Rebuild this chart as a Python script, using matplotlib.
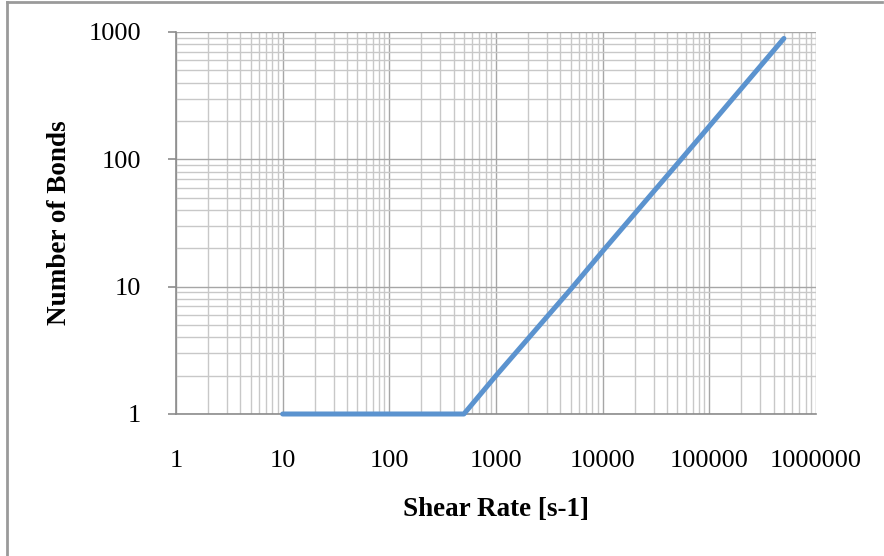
import numpy as np
import matplotlib
matplotlib.use("Agg")
import matplotlib.pyplot as plt
from matplotlib.ticker import FixedLocator, LogLocator, NullFormatter
from matplotlib.lines import Line2D

# data
shear_rate = [10, 50, 100, 500, 1000, 5000, 10000, 50000, 100000, 500000]
bonds = [1, 1, 1, 1, 2.0, 9.5, 19, 92, 182, 890]

x_ticks = [1, 10, 100, 1000, 10000, 100000, 1000000]
x_labels = ["1", "10", "100", "1000", "10000", "100000", "1000000"]
y_ticks = [1, 10, 100, 1000]
y_labels = ["1", "10", "100", "1000"]

plt.rcParams['font.family'] = ['Liberation Serif', 'DejaVu Serif']

fig = plt.figure(figsize=(8.84, 5.56), dpi=100)
ax = fig.add_axes([176/884, 1 - 414/556, 640/884, 382/556])

ax.set_xscale('log')
ax.set_yscale('log')
ax.set_xlim(1, 1e6)
ax.set_ylim(1, 1000)

ax.xaxis.set_major_locator(FixedLocator(x_ticks))
ax.set_xticklabels(x_labels)
ax.yaxis.set_major_locator(FixedLocator(y_ticks))
ax.set_yticklabels(y_labels)
ax.xaxis.set_minor_locator(LogLocator(base=10, subs=np.arange(2, 10), numticks=20))
ax.yaxis.set_minor_locator(LogLocator(base=10, subs=np.arange(2, 10), numticks=20))
ax.xaxis.set_minor_formatter(NullFormatter())
ax.yaxis.set_minor_formatter(NullFormatter())

ax.grid(True, which='major', color='#a6a6a6', linewidth=1.0)
ax.grid(True, which='minor', color='#c8c8c8', linewidth=1.0)
ax.set_axisbelow(True)

for side in ['top', 'right']:
    ax.spines[side].set_visible(False)
for side in ['left', 'bottom']:
    ax.spines[side].set_color('#8c8c8c')
    ax.spines[side].set_linewidth(1.2)

ax.tick_params(axis='x', which='both', length=0, pad=26, labelsize=19)
ax.tick_params(axis='y', which='major', length=6, width=1.2, color='#8c8c8c',
               pad=19, labelsize=19, direction='out')
ax.tick_params(axis='y', which='minor', length=0)

ax.plot(shear_rate, bonds, color='#5b93cf', linewidth=3.6, solid_capstyle='round',
        zorder=3, clip_on=False)

fig.text(496/884, 1 - 510/556, 'Shear Rate [s-1]', ha='center', va='center',
         fontsize=19.5, fontweight='bold')
fig.text(60/884, 1 - 223/556, 'Number of Bonds', ha='center', va='center',
         rotation=90, fontsize=19.5, fontweight='bold')

# chart frame (top and left edge visible)
fig.add_artist(Line2D([7/884, 882/884], [1 - 2/556, 1 - 2/556], color='#9a9a9a', linewidth=2,
                      transform=fig.transFigure))
fig.add_artist(Line2D([7/884, 7/884], [0, 1 - 2/556], color='#9a9a9a', linewidth=2,
                      transform=fig.transFigure))

fig.savefig('out.png', dpi=100)
